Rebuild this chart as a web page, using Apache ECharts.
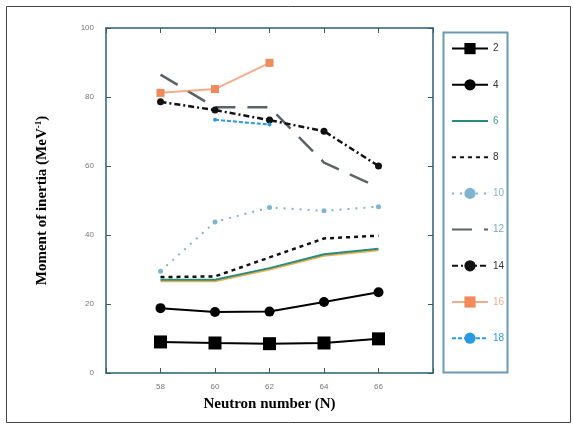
<!DOCTYPE html>
<html><head><meta charset="utf-8">
<script src="https://cdn.jsdelivr.net/npm/echarts@6/dist/echarts.min.js"></script>
<style>html,body{margin:0;padding:0;background:#fff}#c{width:573px;height:425px}</style>
</head><body><div id="c"></div>
<script>
const neutrons = [58, 60, 62, 64, 66];
const spin2  = [9.0, 8.7, 8.5, 8.7, 9.9];
const spin4  = [18.8, 17.7, 17.8, 20.6, 23.4];
const spin6  = [27.0, 27.0, 30.4, 34.4, 36.0];
const spin8  = [27.8, 28.0, 33.5, 39.0, 39.8];
const spin10 = [29.5, 43.8, 48.0, 47.0, 48.2];
const spin12 = [86.5, 77.0, 77.0, 61.0, 53.8];
const spin14 = [78.6, 76.2, 73.3, 70.1, 60.0];
const spin16 = [81.2, 82.3, 89.9, null, null];
const spin18 = [null, 73.4, 72.0, null, null];
const yTicks = [0, 20, 40, 60, 80, 100];
const xTickLabels = ['58', '60', '62', '64', '66'];

const pairs = v => neutrons.map((n, i) => [n, v[i]]);
const axisCol = '#2f5d70';

const seriesDefs = [
  {name:'2', data:spin2, color:'#000', text:'#333', line:{width:2, type:'solid'}, symbol:'rect', size:13},
  {name:'4', data:spin4, color:'#000', text:'#333', line:{width:2, type:'solid'}, symbol:'circle', size:10},
  {name:'6', data:spin6, color:'#2a8a7c', text:'#3aa08e', line:{width:2, type:'solid', shadowColor:'#e8b050', shadowOffsetY:1.5, shadowBlur:0}, symbol:'none', size:0},
  {name:'8', data:spin8, color:'#111', text:'#333', line:{width:2.5, type:[4,4]}, symbol:'none', size:0},
  {name:'10', data:spin10, color:'#7fb3d0', text:'#7fb3d0', line:{width:2, type:[2,6]}, symbol:'circle', size:5},
  {name:'12', data:spin12, color:'#5a6468', text:'#7fa8c0', line:{width:2.5, type:[20,12]}, symbol:'none', size:0},
  {name:'14', data:spin14, color:'#111', text:'#333', line:{width:2.5, type:[6,3,2,3]}, symbol:'circle', size:7},
  {name:'16', data:spin16, color:'#f08a5a', text:'#f0b090', line:{width:2, type:'solid', opacity:0.7}, symbol:'rect', size:8},
  {name:'18', data:spin18, color:'#2a9ae0', text:'#2a9ae0', line:{width:2, type:[4,2]}, symbol:'circle', size:4}
];

const series = seriesDefs.map(d => ({
  name: d.name, type: 'line', data: pairs(d.data),
  symbol: d.symbol, symbolSize: d.size, showSymbol: d.symbol !== 'none',
  itemStyle: {color: d.color},
  lineStyle: Object.assign({color: d.color}, d.line),
  connectNulls: false, animation: false, z: 3
}));

const legendSizes = {'2': 12, '4': 9, '10': 5, '14': 6, '16': 7, '18': 4};

const chart = echarts.init(document.getElementById('c'), null, {renderer:'canvas'});
chart.setOption({
  animation: false,
  backgroundColor: '#fff',
  grid: {left: 106, right: 140, top: 28, bottom: 52, show: false},
  legend: {
    orient: 'vertical', left: 446, top: 38,
    itemWidth: 36, itemHeight: 14, itemGap: 25,
    textStyle: {fontSize: 10, fontFamily: 'Liberation Sans'},
    data: seriesDefs.map(d => {
      const item = {name: d.name, textStyle: {color: d.text}};
      if (d.symbol === 'none') item.itemStyle = {color: 'rgba(0,0,0,0)', borderWidth: 0, opacity: 0};
      return item;
    })
  },
  xAxis: [{
    type: 'value', min: 56, max: 68, interval: 2,
    name: 'Neutron number (N)', nameLocation: 'middle', nameGap: 24,
    nameTextStyle: {fontFamily: 'Liberation Serif', fontWeight: 'bold', fontSize: 15, color: '#000'},
    axisLine: {show: true, onZero: false, lineStyle: {color: axisCol, width: 1.5}},
    axisTick: {show: true, inside: true, length: 5, lineStyle: {color: axisCol}},
    axisLabel: {fontSize: 8, color: '#777', margin: 10, fontFamily: 'Liberation Sans',
      formatter: v => xTickLabels.includes(String(v)) ? String(v) : ''},
    splitLine: {show: false}
  }, {
    type: 'value', position: 'top', min: 56, max: 68, interval: 2,
    axisLine: {show: true, onZero: false, lineStyle: {color: axisCol, width: 1.5}},
    axisTick: {show: true, inside: true, length: 5, lineStyle: {color: axisCol}},
    axisLabel: {show: false}, splitLine: {show: false}
  }],
  yAxis: [{
    type: 'value', min: 0, max: 100, interval: 20,
    name: '{n|Moment of inertia (MeV}{s|-1}{n|)}', nameLocation: 'middle', nameGap: 56, nameRotate: 90,
    nameTextStyle: {
      rich: {
        n: {fontFamily: 'Liberation Serif', fontWeight: 'bold', fontSize: 15, color: '#000'},
        s: {fontFamily: 'Liberation Serif', fontWeight: 'bold', fontSize: 9, color: '#000', padding: [0, 0, 7, 0]}
      }
    },
    axisLine: {show: true, onZero: false, lineStyle: {color: axisCol, width: 1.5}},
    axisTick: {show: true, inside: true, length: 5, lineStyle: {color: axisCol}},
    axisLabel: {fontSize: 8, color: '#777', margin: 12, fontFamily: 'Liberation Sans',
      formatter: v => yTicks.includes(v) ? String(v) : ''},
    splitLine: {show: false}
  }, {
    type: 'value', position: 'right', min: 0, max: 100, interval: 20,
    axisLine: {show: true, onZero: false, lineStyle: {color: axisCol, width: 1.5}},
    axisTick: {show: true, inside: true, length: 5, lineStyle: {color: axisCol}},
    axisLabel: {show: false}, splitLine: {show: false}
  }],
  graphic: [
    {type: 'rect', left: 4, top: 4, shape: {x: 0, y: 0, width: 564, height: 416},
     style: {fill: 'none', stroke: '#444', lineWidth: 1}, silent: true, z: -1},
    {type: 'rect', left: 441, top: 30, shape: {x: 0, y: 0, width: 64, height: 340},
     style: {fill: 'none', stroke: '#6a9ab4', lineWidth: 2}, silent: true, z: 1}
  ],
  series: series
});
</script></body></html>
